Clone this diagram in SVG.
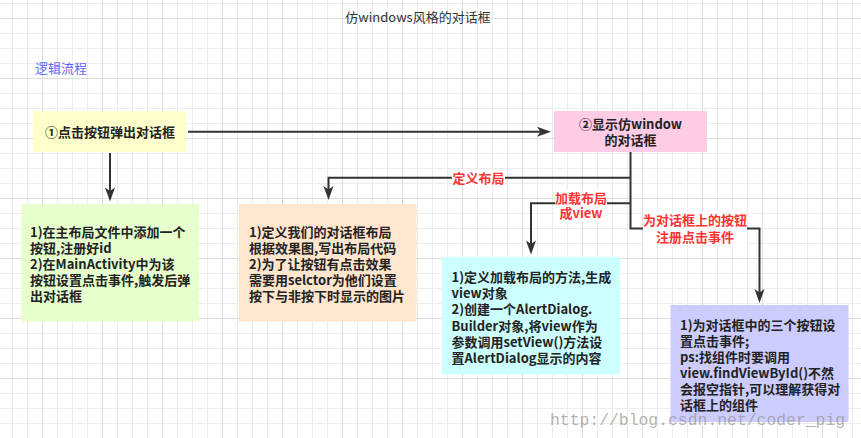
<svg xmlns="http://www.w3.org/2000/svg" width="861" height="438" viewBox="0 0 861 438">
<style>
text{font-family:"Noto Sans CJK SC","Noto Sans",sans-serif;font-size:13px;}
.box{stroke:none;}
.t{fill:#222;font-weight:bold;}
.lbl{fill:#ff3333;font-weight:bold;text-anchor:middle;}
.lblbg{fill:#ffffff;}
.conn{fill:none;stroke:#333333;stroke-width:2;}
.arr{marker-end:url(#arrow);}
</style>
<defs>
<pattern id="grid" patternUnits="userSpaceOnUse" x="42" y="18" width="60" height="60">
<rect x="15" y="0" width="1" height="60" fill="#ececec"/>
<rect x="30" y="0" width="1" height="60" fill="#ececec"/>
<rect x="45" y="0" width="1" height="60" fill="#ececec"/>
<rect x="0" y="15" width="60" height="1" fill="#ececec"/>
<rect x="0" y="30" width="60" height="1" fill="#ececec"/>
<rect x="0" y="45" width="60" height="1" fill="#ececec"/>
<rect x="0" y="0" width="1" height="60" fill="#dcdcdc"/>
<rect x="0" y="0" width="60" height="1" fill="#dcdcdc"/>
</pattern>
<marker id="arrow" markerUnits="userSpaceOnUse" markerWidth="16" markerHeight="12" viewBox="-15 -6 16 12" refX="-8" refY="0" orient="auto">
<path d="M0 0 L-14 -5 L-10.5 0 L-14 5 Z" fill="#333333"/>
</marker>
</defs>
<rect width="861" height="438" fill="#ffffff"/>
<rect width="861" height="438" fill="url(#grid)"/>

<text x="418" y="21.5" text-anchor="middle" fill="#333333">仿windows风格的对话框</text>
<text x="35" y="73" fill="#6666ff">逻辑流程</text>

<g id="connectors">
<path class="conn arr" d="M188 131.7 H543"/>
<path class="conn arr" d="M110 153 V193.5"/>
<path class="conn arr" d="M630.5 152 V228.5 H759.5 V295"/>
<path class="conn arr" d="M630.5 177.7 H328.5 V192"/>
<path class="conn arr" d="M630.5 203.3 H531 V246.5"/>
<rect class="lblbg" x="452" y="170" width="53" height="16"/>
<text class="lbl" x="478.5" y="182.5">定义布局</text>
<rect class="lblbg" x="555" y="190" width="52" height="32"/>
<text class="lbl" x="581" y="203">加载布局<tspan x="581" dy="15">成view</tspan></text>
<rect class="lblbg" x="643" y="212" width="104" height="33"/>
<text class="lbl" x="695" y="224.7">为对话框上的按钮<tspan x="695" dy="17.3">注册点击事件</tspan></text>
</g>

<g id="node-click">
<rect class="box" x="33" y="111" width="153" height="41" fill="#ffffcc"/>
<text class="t" x="110" y="136.5" text-anchor="middle">①点击按钮弹出对话框</text>
</g>

<g id="node-show">
<rect class="box" x="554" y="111" width="153" height="41" fill="#ffcce6"/>
<text class="t" x="630.5" y="128.7" text-anchor="middle">②显示仿window<tspan x="630.5" dy="16">的对话框</tspan></text>
</g>

<g id="node-main">
<rect class="box" x="21.5" y="204" width="177.5" height="117.5" fill="#e6ffcc"/>
<text class="t" x="30" y="236.5">1)在主布局文件中添加一个<tspan x="30" dy="16">按钮,注册好id</tspan><tspan x="30" dy="16">2)在MainActivity中为该</tspan><tspan x="30" dy="16">按钮设置点击事件,触发后弹</tspan><tspan x="30" dy="16">出对话框</tspan></text>
</g>

<g id="node-layout">
<rect class="box" x="239" y="204" width="177.5" height="117.5" fill="#ffe6cc"/>
<text class="t" x="249" y="236.5">1)定义我们的对话框布局<tspan x="249" dy="16">根据效果图,写出布局代码</tspan><tspan x="249" dy="16">2)为了让按钮有点击效果</tspan><tspan x="249" dy="16">需要用selctor为他们设置</tspan><tspan x="249" dy="16">按下与非按下时显示的图片</tspan></text>
</g>

<g id="node-view">
<rect class="box" x="442" y="257" width="178" height="117.5" fill="#ccffff"/>
<text class="t" x="451.5" y="282">1)定义加载布局的方法,生成<tspan x="451.5" dy="16.2">view对象</tspan><tspan x="451.5" dy="16.2">2)创建一个AlertDialog.</tspan><tspan x="451.5" dy="16.2">Builder对象,将view作为</tspan><tspan x="451.5" dy="16.2">参数调用setView()方法设</tspan><tspan x="451.5" dy="16.2">置AlertDialog显示的内容</tspan></text>
</g>

<g id="node-events">
<rect class="box" x="670.5" y="305" width="178" height="117" fill="#ccccff"/>
<text class="t" x="680" y="330">1)为对话框中的三个按钮设<tspan x="680" dy="15.9">置点击事件;</tspan><tspan x="680" dy="15.9">ps:找组件时要调用</tspan><tspan x="680" dy="15.9">view.findViewById()不然</tspan><tspan x="680" dy="15.9">会报空指针,可以理解获得对</tspan><tspan x="680" dy="15.9">话框上的组件</tspan></text>
</g>

<text x="550" y="425" style="font-family:'Liberation Mono',monospace;font-size:16.4px;" fill="#999999" fill-opacity="0.75">http://blog.csdn.net/coder_pig</text>
</svg>
